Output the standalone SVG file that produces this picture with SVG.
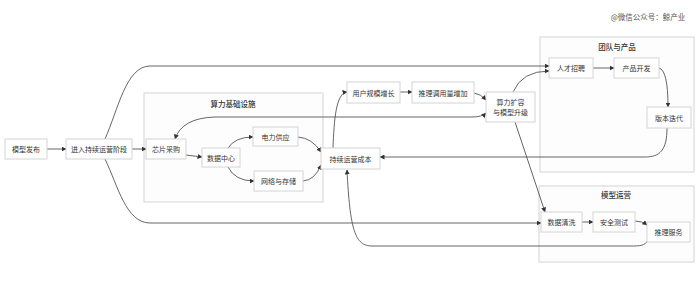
<svg xmlns="http://www.w3.org/2000/svg" width="700" height="289" viewBox="0 0 700 289">
<style>
.grp{fill:#fdfdfd;stroke:#d4d4d4;stroke-width:1}
.nd{fill:#ffffff;stroke:#d4d4d4;stroke-width:1}
.t{font-family:"Noto Sans CJK SC","Noto Sans",sans-serif;font-size:7px;fill:#333;text-anchor:middle;dominant-baseline:central}
.gt{font-family:"Noto Sans CJK SC","Noto Sans",sans-serif;font-size:7.5px;fill:#333;text-anchor:middle;dominant-baseline:central;font-weight:500}
.e{fill:none;stroke:#555;stroke-width:0.9;marker-end:url(#ah)}
</style>
<defs>
<marker id="ah" viewBox="0 0 10 10" refX="9" refY="5" markerWidth="5" markerHeight="5" orient="auto-start-reverse" markerUnits="userSpaceOnUse">
<path d="M0,0 L10,5 L0,10 z" fill="#333"/>
</marker>
</defs>
<rect width="700" height="289" fill="#ffffff"/>
<text x="648" y="16" class="t" style="font-size:7.5px;fill:#555">@微信公众号：鲸产业</text>

<g id="group-infra">
<rect class="grp" x="144" y="93" width="179" height="109"/>
<text class="gt" x="233" y="103">算力基础设施</text>
</g>
<g id="group-team">
<rect class="grp" x="540" y="37" width="154" height="135"/>
<text class="gt" x="617" y="46">团队与产品</text>
</g>
<g id="group-ops">
<rect class="grp" x="539" y="186" width="155" height="76"/>
<text class="gt" x="616" y="194">模型运营</text>
</g>

<g id="connectors">
<path class="e" d="M47,149 L66,149"/>
<path class="e" d="M132,149 L146,149"/>
<path class="e" d="M105,139 C118,110 126,66 150,66 L549,66"/>
<path class="e" d="M105,159 C118,186 126,223 150,223 L541,223"/>
<path class="e" d="M186,155 L202,157"/>
<path class="e" d="M228,148 Q235,137 253,137"/>
<path class="e" d="M228,167 Q235,181 254,181"/>
<path class="e" d="M298,137 Q312,138 321,152"/>
<path class="e" d="M303,181 Q315,180 321,165"/>
<path class="e" d="M333,148 C334,120 336,93 347,92"/>
<path class="e" d="M400,92 L412,92"/>
<path class="e" d="M474,93 Q481,94 486,100"/>
<path class="e" style="marker-start:url(#ah)" d="M486,113 Q482,117 472,117 L215,117 Q182,118 175,139"/>
<path class="e" d="M513,92 Q522,71 549,71"/>
<path class="e" d="M515,122 L545,212"/>
<path class="e" d="M593,68 L614,68"/>
<path class="e" d="M659,68 Q668,70 668,107"/>
<path class="e" d="M667,128 C667,150 660,157 645,157 L380,157"/>
<path class="e" d="M582,222 L593,222"/>
<path class="e" d="M635,221 Q642,221 647,225"/>
<path class="e" d="M648,240 C645,246 640,246 630,246 L372,246 C355,246 350,230 347,170"/>
</g>

<g id="n-release"><rect class="nd" x="5" y="139" width="42" height="20"/><text class="t" x="26" y="149">模型发布</text></g>
<g id="n-enter"><rect class="nd" x="66" y="139" width="66" height="20"/><text class="t" x="99" y="149">进入持续运营阶段</text></g>
<g id="n-chip"><rect class="nd" x="146" y="139" width="40" height="20"/><text class="t" x="166" y="149">芯片采购</text></g>
<g id="n-dc"><rect class="nd" x="202" y="148" width="38" height="19"/><text class="t" x="221" y="157.5">数据中心</text></g>
<g id="n-power"><rect class="nd" x="253" y="127" width="45" height="19"/><text class="t" x="275.5" y="136.5">电力供应</text></g>
<g id="n-net"><rect class="nd" x="254" y="171" width="49" height="20"/><text class="t" x="278.5" y="181">网络与存储</text></g>
<g id="n-cost"><rect class="nd" x="321" y="148" width="59" height="21"/><text class="t" x="350.5" y="158.5">持续运营成本</text></g>
<g id="n-users"><rect class="nd" x="347" y="82" width="53" height="21"/><text class="t" x="373.5" y="92.5">用户规模增长</text></g>
<g id="n-calls"><rect class="nd" x="412" y="82" width="62" height="21"/><text class="t" x="443" y="92.5">推理调用量增加</text></g>
<g id="n-scale"><rect class="nd" x="486" y="92" width="49" height="30"/><text class="t" x="510.5" y="102">算力扩容</text><text class="t" x="510.5" y="112">与模型升级</text></g>
<g id="n-hire"><rect class="nd" x="549" y="58" width="44" height="20"/><text class="t" x="571" y="68">人才招聘</text></g>
<g id="n-dev"><rect class="nd" x="614" y="58" width="45" height="20"/><text class="t" x="636.5" y="68">产品开发</text></g>
<g id="n-iter"><rect class="nd" x="647" y="107" width="44" height="21"/><text class="t" x="669" y="117.5">版本迭代</text></g>
<g id="n-clean"><rect class="nd" x="541" y="212" width="41" height="20"/><text class="t" x="561.5" y="222">数据清洗</text></g>
<g id="n-safe"><rect class="nd" x="593" y="212" width="42" height="20"/><text class="t" x="614" y="222">安全测试</text></g>
<g id="n-serve"><rect class="nd" x="647" y="222" width="43" height="20"/><text class="t" x="668.5" y="232">推理服务</text></g>
</svg>
